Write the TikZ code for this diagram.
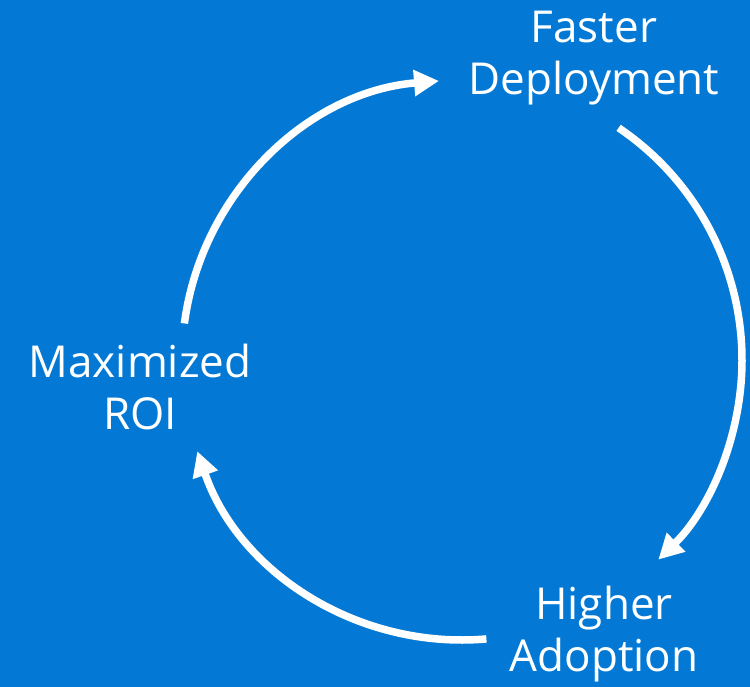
\documentclass[tikz,border=0pt]{standalone}
\usepackage{fontspec}
\setmainfont{Open Sans}
\usetikzlibrary{arrows.meta,calc}
\definecolor{msblue}{HTML}{0379D5}
\begin{document}
\begin{tikzpicture}[x=1pt,y=1pt,
  label/.style={text=white, align=center, inner sep=0pt,
    font=\fontsize{44}{52}\selectfont, anchor=base},
  cyclearrow/.style={draw=white, line width=7.5pt,
    -{Triangle[length=25pt,width=25pt]}}]
  % background
  \fill[msblue] (0,0) rectangle (750,687);
  \useasboundingbox (0,0) rectangle (750,687);
  % centre of the cycle
  \coordinate (c) at (462,327);
  % stage labels (anchored at the baseline of their last line)
  \node[label] (deploy) at (594,592) {Faster\\Deployment};
  \node[label] (adopt) at (604,15) {Higher\\Adoption};
  \node[label] (roi) at (140,257) {Maximized\\ROI};
  % arc end points on the circle
  \coordinate (s1) at ($(c)+(172.5:280)$);
  \coordinate (s2) at ($(c)+(56:280)$);
  \coordinate (s3) at ($(c)+(-85:280)$);
  % cycle arrows
  \draw[cyclearrow] (s1) arc[start angle=172.5, end angle=94.7, radius=280];
  \draw[cyclearrow] (s2) arc[start angle=56, end angle=-45.5, radius=280];
  \draw[cyclearrow] (s3) arc[start angle=-85, end angle=-161, radius=280];
\end{tikzpicture}
\end{document}
